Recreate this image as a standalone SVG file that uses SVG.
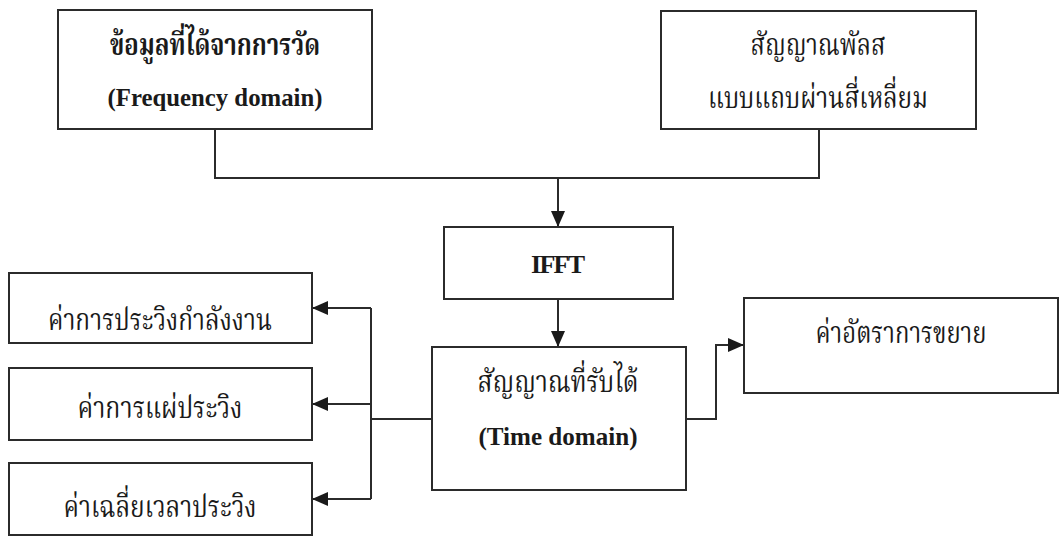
<svg xmlns="http://www.w3.org/2000/svg" width="1060" height="536" viewBox="0 0 1060 536">
  <style>
    .box { fill: #ffffff; stroke: #2b2b2b; stroke-width: 2; }
    .wire { fill: none; stroke: #2b2b2b; stroke-width: 2; }
    .th { font-family: "Liberation Serif", "Noto Serif Thai", "Noto Sans Thai Looped", "Noto Sans Thai", serif; font-size: 30px; fill: #1a1a1a; text-anchor: middle; }
    .thb { font-weight: bold; }
    .en { font-family: "Liberation Serif", "Times New Roman", serif; font-size: 26px; font-weight: bold; fill: #1a1a1a; text-anchor: middle; }
  </style>
  <defs>
    <marker id="arrow" markerUnits="userSpaceOnUse" markerWidth="17" markerHeight="14" refX="16" refY="7" orient="auto">
      <path d="M0,0 L16,7 L0,14 Z" fill="#1a1a1a"/>
    </marker>
  </defs>

  <rect width="1060" height="536" fill="#ffffff"/>

  <!-- connectors -->
  <g id="connectors">
    <path class="wire" d="M215,129 V178 H819 V129"/>
    <path class="wire" d="M558,178 V227" marker-end="url(#arrow)"/>
    <path class="wire" d="M558,299 V347" marker-end="url(#arrow)"/>
    <path class="wire" d="M432,419 H371"/>
    <path class="wire" d="M371,308 V499"/>
    <path class="wire" d="M371,308 H312" marker-end="url(#arrow)"/>
    <path class="wire" d="M371,404 H312" marker-end="url(#arrow)"/>
    <path class="wire" d="M371,499 H312" marker-end="url(#arrow)"/>
    <path class="wire" d="M686,419 H716 V345 H744" marker-end="url(#arrow)"/>
  </g>

  <!-- measured data input -->
  <g id="measured">
    <rect class="box" x="58" y="10" width="314" height="119"/>
    <text class="th thb" x="215" y="55" textLength="210" lengthAdjust="spacingAndGlyphs">ข้อมูลที่ได้จากการวัด</text>
    <text class="en" x="215" y="106" textLength="215" lengthAdjust="spacingAndGlyphs">(Frequency domain)</text>
  </g>

  <!-- raised-cosine band-pass pulse -->
  <g id="pulse">
    <rect class="box" x="661" y="11" width="315" height="118"/>
    <text class="th" x="818" y="55" textLength="135" lengthAdjust="spacingAndGlyphs">สัญญาณพัลส</text>
    <text class="th" x="818" y="108" textLength="220" lengthAdjust="spacingAndGlyphs">แบบแถบผ่านสี่เหลี่ยม</text>
  </g>

  <g id="ifft">
    <rect class="box" x="444" y="227" width="229" height="72"/>
    <text class="en" x="558" y="273" textLength="54" lengthAdjust="spacing">IFFT</text>
  </g>

  <g id="received">
    <rect class="box" x="432" y="347" width="254" height="143"/>
    <text class="th" x="558" y="392" textLength="161" lengthAdjust="spacingAndGlyphs">สัญญาณที่รับได้</text>
    <text class="en" x="558" y="445" textLength="159" lengthAdjust="spacingAndGlyphs">(Time domain)</text>
  </g>

  <g id="gain">
    <rect class="box" x="744" y="298" width="314" height="95"/>
    <text class="th" x="901" y="343" textLength="171" lengthAdjust="spacingAndGlyphs">ค่าอัตราการขยาย</text>
  </g>

  <g id="power-delay">
    <rect class="box" x="9" y="273" width="303" height="70"/>
    <text class="th" x="160" y="330" textLength="224" lengthAdjust="spacingAndGlyphs">ค่าการประวิงกำลังงาน</text>
  </g>

  <g id="delay-spread">
    <rect class="box" x="9" y="368" width="303" height="72"/>
    <text class="th" x="160" y="418" textLength="165" lengthAdjust="spacingAndGlyphs">ค่าการแผ่ประวิง</text>
  </g>

  <g id="mean-delay">
    <rect class="box" x="9" y="463" width="303" height="72"/>
    <text class="th" x="160" y="517" textLength="193" lengthAdjust="spacingAndGlyphs">ค่าเฉลี่ยเวลาประวิง</text>
  </g>
</svg>
